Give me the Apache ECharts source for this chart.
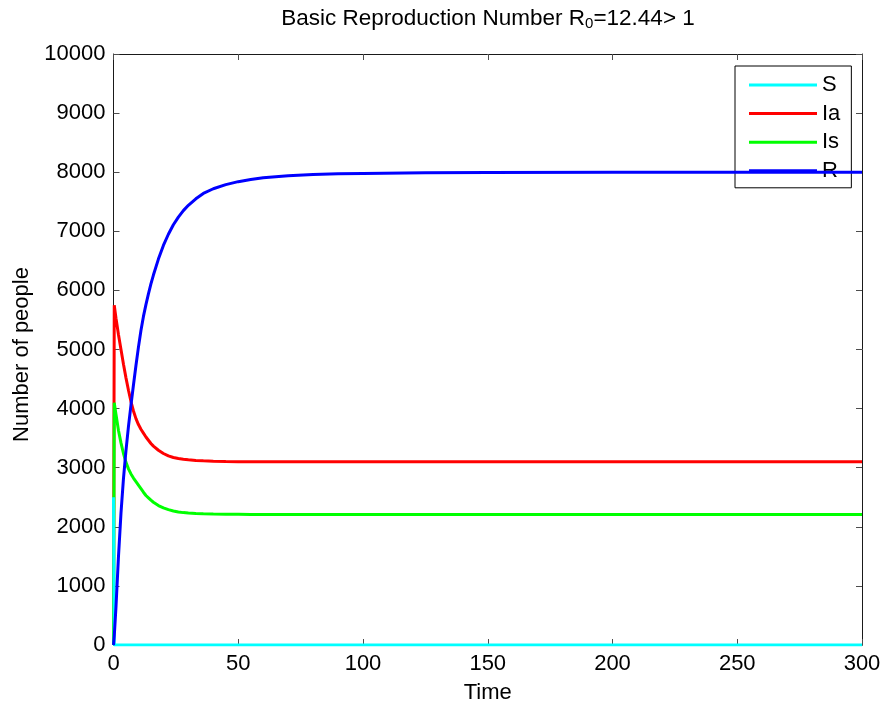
<!DOCTYPE html>
<html>
<head>
<meta charset="utf-8">
<script src="https://cdn.jsdelivr.net/npm/echarts@6/dist/echarts.min.js"></script>
<style>
  html, body { margin: 0; padding: 0; background: #fff; }
  #chart { width: 883px; height: 708px; }
</style>
</head>
<body>
<div id="chart"></div>
<script>
// Sample times shared by every compartment
const time = [0, 0.3, 1, 2, 3, 4, 5, 6, 7, 8, 9, 10, 11, 12, 13, 14, 15, 16, 18, 20, 22, 24, 26, 28, 30, 33, 36, 40, 45, 50, 55, 60, 70, 80, 90, 100, 125, 150, 200, 250, 300];

// Compartment sizes at those times
const S  = [2500, 0, 0, 0, 0, 0, 0, 0, 0, 0, 0, 0, 0, 0, 0, 0, 0, 0, 0, 0, 0, 0, 0, 0, 0, 0, 0, 0, 0, 0, 0, 0, 0, 0, 0, 0, 0, 0, 0, 0, 0];
const Ia = [0, 5750, 5530, 5250, 5000, 4750, 4520, 4310, 4120, 3960, 3830, 3730, 3650, 3585, 3520, 3465, 3410, 3365, 3295, 3240, 3200, 3172, 3155, 3142, 3133, 3123, 3116, 3110, 3105, 3102, 3101, 3100, 3100, 3100, 3100, 3100, 3100, 3100, 3100, 3100, 3100];
const Is = [0, 4100, 3900, 3630, 3420, 3240, 3090, 2980, 2895, 2825, 2765, 2705, 2645, 2585, 2530, 2490, 2450, 2415, 2360, 2320, 2290, 2268, 2252, 2240, 2232, 2224, 2219, 2215, 2212, 2211, 2210, 2210, 2210, 2210, 2210, 2210, 2210, 2210, 2210, 2210, 2210];
const R  = [0, 150, 650, 1500, 2230, 2820, 3290, 3700, 4060, 4400, 4730, 5040, 5320, 5560, 5760, 5940, 6110, 6260, 6530, 6760, 6950, 7110, 7240, 7350, 7440, 7550, 7640, 7720, 7790, 7840, 7875, 7905, 7940, 7960, 7972, 7980, 7990, 7995, 8000, 8000, 8000];

const seriesNames = ['S', 'Ia', 'Is', 'R'];
const seriesColors = ['#00FFFF', '#FF0000', '#00FF00', '#0000FF'];
const seriesValues = [S, Ia, Is, R];
const seriesZ = [4, 2, 3, 5];

const xTicks = { min: 0, max: 300, interval: 50 };
const yTicks = { min: 0, max: 10000, interval: 1000 };

const FONT = 'Liberation Sans, Arial, sans-serif';
const AXIS_LINE = '#1a1a1a';
const TICK = '#4d4d4d';
const FS = 22;

const chart = echarts.init(document.getElementById('chart'), null, { renderer: 'canvas' });

const pairs = vals => time.map((t, i) => [t, vals[i]]);

const boxAxis = (extra) => Object.assign({
  type: 'value',
  splitLine: { show: false },
  axisLine: { show: true, onZero: false, lineStyle: { color: AXIS_LINE, width: 1 } },
  axisTick: { show: true, inside: true, length: 6, lineStyle: { color: TICK, width: 1 } }
}, extra);

chart.setOption({
  animation: false,
  backgroundColor: '#ffffff',
  textStyle: { fontFamily: FONT },
  title: {
    text: '{a|Basic Reproduction Number R}{s|0}{a|=12.44> 1}',
    left: 483,
    top: 2,
    textAlign: 'center',
    textStyle: {
      fontWeight: 'normal',
      rich: {
        a: { fontFamily: FONT, fontSize: 22.5, fontWeight: 'normal', color: '#000', lineHeight: 24, verticalAlign: 'top' },
        s: { fontFamily: FONT, fontSize: 15, fontWeight: 'normal', color: '#000', lineHeight: 15, verticalAlign: 'bottom', padding: [13, 0, 0, 0] }
      }
    }
  },
  legend: {
    orient: 'vertical',
    left: 735,
    top: 66,
    padding: [8, 11, 6, 14],
    icon: 'rect',
    itemWidth: 68,
    itemHeight: 3,
    itemGap: 6.6,
    borderColor: '#000',
    borderWidth: 1,
    borderRadius: 0,
    backgroundColor: '#fff',
    textStyle: { fontFamily: FONT, fontSize: FS, color: '#000', lineHeight: 20 },
    data: seriesNames
  },
  grid: { left: 113.5, right: 21, top: 54, bottom: 63, containLabel: false, outerBoundsMode: 'none' },
  xAxis: [
    boxAxis(Object.assign({}, xTicks, {
      position: 'bottom',
      name: 'Time',
      nameLocation: 'middle',
      nameGap: 37,
      nameTextStyle: { fontFamily: FONT, fontSize: FS, color: '#000' },
      axisLabel: { fontFamily: FONT, fontSize: FS, color: '#000', margin: 8 }
    })),
    boxAxis(Object.assign({}, xTicks, { position: 'top', axisLabel: { show: false } }))
  ],
  yAxis: [
    boxAxis(Object.assign({}, yTicks, {
      position: 'left',
      name: 'Number of people',
      nameLocation: 'middle',
      nameGap: 77,
      nameTextStyle: { fontFamily: FONT, fontSize: FS, color: '#000', padding: [0, 10, 0, 0] },
      axisLabel: { fontFamily: FONT, fontSize: FS, color: '#000', margin: 8, formatter: v => String(v) }
    })),
    boxAxis(Object.assign({}, yTicks, { position: 'right', axisLabel: { show: false } }))
  ],
  series: seriesNames.map((name, i) => ({
    name,
    type: 'line',
    xAxisIndex: 0,
    yAxisIndex: 0,
    z: seriesZ[i],
    data: pairs(seriesValues[i]),
    symbol: 'none',
    smooth: false,
    clip: true,
    lineStyle: { color: seriesColors[i], width: 3 },
    itemStyle: { color: seriesColors[i] }
  }))
});
</script>
</body>
</html>
